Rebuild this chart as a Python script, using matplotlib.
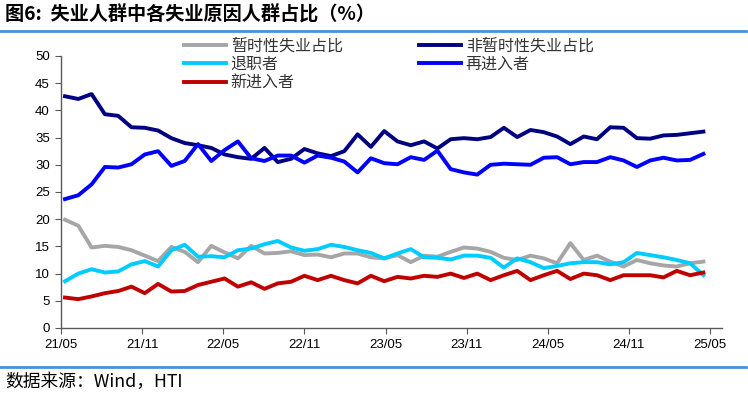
import matplotlib.pyplot as plt
from matplotlib.lines import Line2D
import numpy as np

plt.rcParams['font.family'] = ['Noto Sans CJK SC', 'DejaVu Sans']

# 月度数据 2021/05 - 2025/05
temp_share = [19.9, 18.8, 14.8, 15.1, 14.9, 14.3, 13.3, 12.3, 14.9, 14.0, 12.1, 15.1, 13.9,
              12.8, 15.1, 13.7, 13.8, 14.1, 13.4, 13.5, 13.0, 13.7, 13.7, 13.0, 12.8, 13.4,
              12.1, 13.3, 13.1, 14.0, 14.8, 14.6, 14.0, 12.9, 12.5, 13.3, 12.8, 11.9, 15.6,
              12.5, 13.3, 12.2, 11.3, 12.5, 11.9, 11.5, 11.3, 11.9, 12.2]
nontemp_share = [42.6, 42.1, 43.0, 39.3, 39.0, 36.9, 36.8, 36.3, 34.9, 34.0, 33.6, 33.1, 31.9,
                 31.4, 31.1, 33.1, 30.5, 31.1, 32.9, 32.1, 31.6, 32.5, 35.6, 33.3, 36.2, 34.3,
                 33.6, 34.3, 33.0, 34.7, 34.9, 34.7, 35.1, 36.8, 35.1, 36.4, 36.0, 35.2, 33.8,
                 35.2, 34.7, 36.9, 36.8, 34.9, 34.8, 35.4, 35.5, 35.8, 36.1]
quitters = [8.6, 10.0, 10.8, 10.2, 10.4, 11.7, 12.3, 11.3, 14.3, 15.3, 13.1, 13.2, 13.0,
            14.3, 14.6, 15.4, 16.0, 14.8, 14.2, 14.5, 15.3, 14.9, 14.3, 13.8, 12.8, 13.7,
            14.5, 13.0, 12.9, 12.6, 13.3, 13.3, 12.9, 11.1, 12.8, 12.1, 11.0, 11.4, 11.9,
            12.1, 12.1, 11.7, 12.1, 13.8, 13.4, 13.0, 12.5, 11.9, 9.7]
reentrants = [23.7, 24.4, 26.4, 29.6, 29.5, 30.1, 31.9, 32.5, 29.8, 30.7, 33.8, 30.7, 32.7,
              34.3, 31.2, 30.7, 31.7, 31.7, 30.4, 31.7, 31.3, 30.6, 28.6, 31.2, 30.3, 30.1,
              31.4, 30.9, 32.6, 29.2, 28.6, 28.2, 30.0, 30.2, 30.1, 30.0, 31.3, 31.4, 30.1,
              30.5, 30.5, 31.4, 30.8, 29.6, 30.8, 31.3, 30.8, 30.9, 32.0]
new_entrants = [5.6, 5.3, 5.8, 6.4, 6.8, 7.6, 6.4, 8.1, 6.7, 6.8, 7.9, 8.5, 9.1,
                7.6, 8.4, 7.2, 8.2, 8.5, 9.6, 8.8, 9.6, 8.8, 8.2, 9.6, 8.6, 9.4,
                9.1, 9.6, 9.4, 10.0, 9.2, 10.0, 8.8, 9.7, 10.5, 8.8, 9.7, 10.5, 9.0,
                10.0, 9.7, 8.8, 9.7, 9.7, 9.7, 9.3, 10.5, 9.7, 10.2]
tick_labels = ['21/05', '21/11', '22/05', '22/11', '23/05', '23/11', '24/05', '24/11', '25/05']

x = np.arange(len(temp_share))

fig = plt.figure(figsize=(7.48, 3.95), dpi=100)
ax = fig.add_axes([61/748, 1-328/395, (722-61)/748, (328-56)/395])

lw = 2.8
ax.plot(x, temp_share, color='#A6A6A6', lw=lw, label='暂时性失业占比')
ax.plot(x, quitters, color='#00CCFF', lw=lw, label='退职者')
ax.plot(x, new_entrants, color='#C00000', lw=lw, label='新进入者')
ax.plot(x, nontemp_share, color='#000080', lw=lw, label='非暂时性失业占比')
ax.plot(x, reentrants, color='#0000FF', lw=lw, label='再进入者')

ax.set_xlim(-0.3, 49.4)
ax.set_ylim(0, 50)
ax.set_yticks(range(0, 51, 5))
ax.set_xticks(np.arange(len(tick_labels)) * 6.1 - 0.3)
ax.set_xticklabels(tick_labels)

for s in ['top', 'right']:
    ax.spines[s].set_visible(False)
for s in ['left', 'bottom']:
    ax.spines[s].set_color('#595959')
    ax.spines[s].set_linewidth(1.0)
ax.tick_params(axis='both', direction='out', length=4, color='#595959', labelsize=9.5, pad=4)
for lab in ax.get_xticklabels() + ax.get_yticklabels():
    lab.set_fontfamily('Liberation Sans')

ax.legend(ncol=2, loc='upper left', bbox_to_anchor=(170/748, 1-23/395),
          bbox_transform=fig.transFigure, frameon=False, fontsize=11.5,
          handlelength=2.6, handletextpad=0.3, columnspacing=4.8, labelspacing=0.1,
          labelcolor='#333333')

fig.text(5/748, 1-15/395, '图6:  失业人群中各失业原因人群占比（%）', fontsize=13.8,
         fontweight='bold', va='center', ha='left')
fig.add_artist(Line2D([0, 0.997], [1-31/395, 1-31/395], color='#4A90D9', lw=2))
fig.add_artist(Line2D([0, 0.997], [1-367/395, 1-367/395], color='#4A90D9', lw=2))
fig.text(5/748, 1-382/395, '数据来源：Wind，HTI', fontsize=12.8, va='center', ha='left')

fig.savefig('out.png', dpi=100)
